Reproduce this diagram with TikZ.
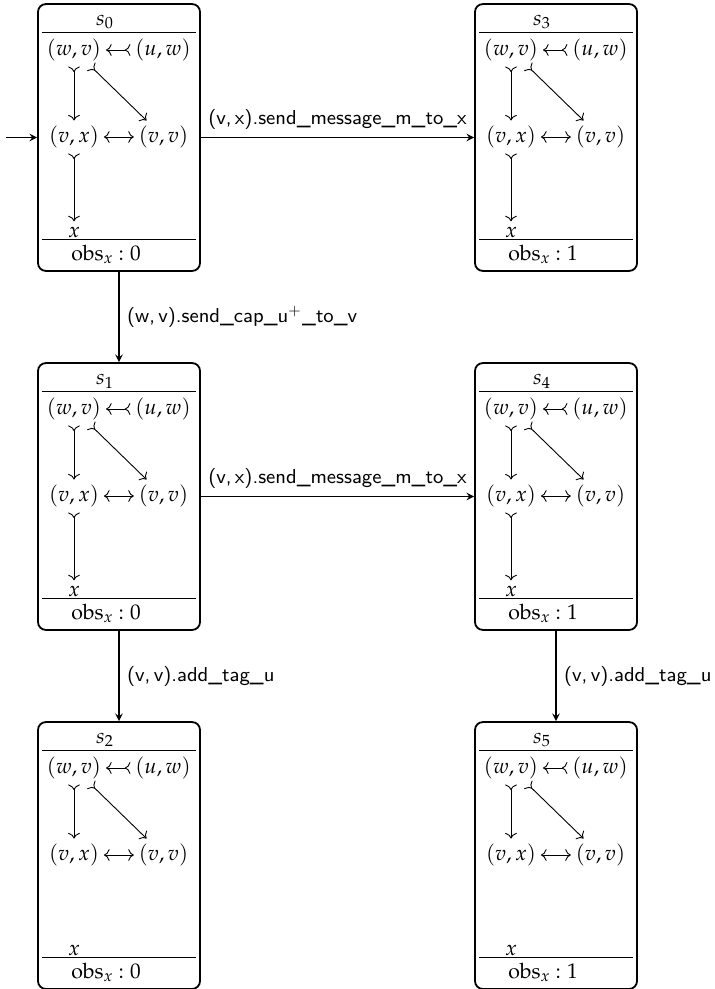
\documentclass[tikz,border=0pt]{standalone}
\usepackage{mathpazo}
\usepackage{tikz}
\usetikzlibrary{arrows.meta}

\tikzset{
  statebox/.style={draw,thick,rounded corners=3.5pt,inner sep=0pt,
    minimum width=71.7pt,minimum height=118.1pt},
  cell/.style={inner xsep=2pt,inner ysep=2.2pt},
  rule/.style={line width=0.4pt},
  cdarrow/.style={line width=0.4pt,>={Computer Modern Rightarrow}},
  trans/.style={-stealth,line width=0.5pt},
  act/.style={font=\sffamily\fontsize{8.9}{10}\selectfont}
}
% one state: name, top-left corner, index, obs value, arrow to x (1/0)
\newcommand{\statebox}[5]{%
  \begin{scope}[shift={(#2)}]
    \node[statebox] (#1) at (81,133.5) {};
    \node (#1-t) at (67,18) {$s_{#3}$};
    \draw[rule] (4,28) -- (158,28);
    \node[cell] (#1-wv) at (36,46) {$(w,v)$};
    \node[cell] (#1-uw) at (125,46) {$(u,w)$};
    \node[cell] (#1-vx) at (36,133) {$(v,x)$};
    \node[cell] (#1-vv) at (125.5,133) {$(v,v)$};
    \node[cell] (#1-x) at (36,228) {$x$};
    \draw[rule] (4,235) -- (158,235);
    \node (#1-o) at (68,250) {$\mathrm{obs}_x\mkern-1mu : #4$};
    \draw[cdarrow,>->] (#1-uw) -- (#1-wv);
    \draw[cdarrow,>->] (#1-wv) -- (#1-vx);
    \draw[cdarrow,>->] (#1-wv) -- (#1-vv);
    \draw[cdarrow,<->] (#1-vx) -- (#1-vv);
    \ifnum#5=1 \draw[cdarrow,>->] (#1-vx) -- (#1-x);\fi
  \end{scope}}

\begin{document}
\begin{tikzpicture}[x=0.4425pt,y=-0.4425pt,font=\fontsize{9.4}{11}\selectfont]
  \useasboundingbox (0,0) rectangle (714,989);
  \statebox{s0}{38,4}{0}{0}{1}
  \statebox{s3}{475,4}{3}{1}{1}
  \statebox{s1}{38,363}{1}{0}{1}
  \statebox{s4}{475,363}{4}{1}{1}
  \statebox{s2}{38,722}{2}{0}{0}
  \statebox{s5}{475,722}{5}{1}{0}
  \coordinate (init) at (6,137.5);
  \draw[trans] (init) -- (s0);
  \draw[trans] (s0) -- node[above,act] {(v,\,x).send\_message\_m\_to\_x} (s3);
  \draw[trans] (s0) -- node[right,act] {(w,\,v).send\_cap\_u$^{+}$\_to\_v} (s1);
  \draw[trans] (s1) -- node[above,act] {(v,\,x).send\_message\_m\_to\_x} (s4);
  \draw[trans] (s1) -- node[right,act] {(v,\,v).add\_tag\_u} (s2);
  \draw[trans] (s4) -- node[right,act] {(v,\,v).add\_tag\_u} (s5);
\end{tikzpicture}
\end{document}
